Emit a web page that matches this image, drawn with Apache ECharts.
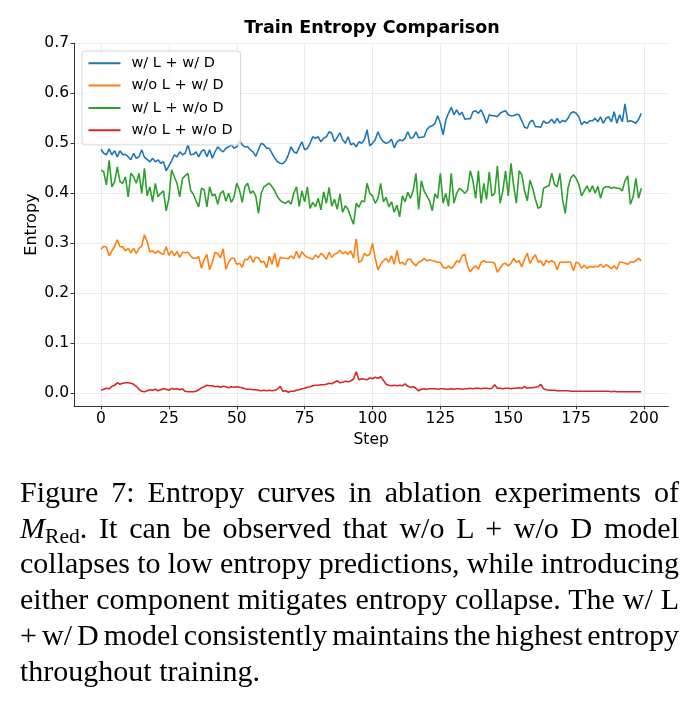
<!DOCTYPE html>
<html>
<head>
<meta charset="utf-8">
<script src="https://cdn.jsdelivr.net/npm/echarts@6/dist/echarts.min.js"></script>
<style>
body { margin: 0; background: #fff; }
#chart { position: absolute; left: 0; top: 0; width: 691px; height: 707px; }
#caption { position: absolute; left: 20px; top: 474px; width: 659px;
  font-family: "Liberation Serif", serif; font-size: 30px; line-height: 35.7px; color: #000; }
#caption div { white-space: nowrap; }
#caption .j { text-align: justify; text-align-last: justify; word-spacing: -5px; }
#caption sub { font-size: 0.72em; vertical-align: -0.25em; line-height: 0; }
</style>
</head>
<body>
<div id="chart"></div>
<div id="caption">
  <div class="j">Figure 7: Entropy curves in ablation experiments of</div>
  <div class="j"><i>M</i><sub>Red</sub>. It can be observed that w/o L + w/o D model</div>
  <div class="j">collapses to low entropy predictions, while introducing</div>
  <div class="j">either component mitigates entropy collapse. The w/ L</div>
  <div class="j">+ w/ D model consistently maintains the highest entropy</div>
  <div>throughout training.</div>
</div>
<script>
var seriesNames = ['w/ L + w/ D', 'w/o L + w/ D', 'w/ L + w/o D', 'w/o L + w/o D'];
var xTicks = [0, 25, 50, 75, 100, 125, 150, 175, 200];
var yTicks = [0, 0.1, 0.2, 0.3, 0.4, 0.5, 0.6, 0.7];

// w/ L + w/ D
var lossDiv = [
    0.488, 0.480, 0.477, 0.489, 0.477, 0.485, 0.473, 0.485, 0.477, 0.478,
    0.473, 0.467, 0.480, 0.470, 0.473, 0.487, 0.472, 0.468, 0.463, 0.470,
    0.463, 0.467, 0.460, 0.463, 0.445, 0.455, 0.465, 0.477, 0.473, 0.483,
    0.477, 0.480, 0.497, 0.477, 0.478, 0.483, 0.473, 0.484, 0.487, 0.473,
    0.487, 0.470, 0.483, 0.493, 0.487, 0.483, 0.490, 0.493, 0.497, 0.490,
    0.493, 0.505, 0.497, 0.493, 0.493, 0.487, 0.483, 0.474, 0.487, 0.500,
    0.497, 0.490, 0.490, 0.480, 0.470, 0.463, 0.460, 0.459, 0.465, 0.477,
    0.493, 0.483, 0.480, 0.492, 0.503, 0.487, 0.490, 0.500, 0.513, 0.510,
    0.513, 0.503, 0.510, 0.513, 0.523, 0.520, 0.503, 0.512, 0.521, 0.507,
    0.500, 0.513, 0.497, 0.500, 0.493, 0.503, 0.500, 0.507, 0.527, 0.495,
    0.500, 0.507, 0.523, 0.510, 0.503, 0.500, 0.502, 0.508, 0.491, 0.503,
    0.507, 0.505, 0.510, 0.523, 0.510, 0.512, 0.523, 0.511, 0.512, 0.513,
    0.527, 0.533, 0.535, 0.540, 0.555, 0.540, 0.517, 0.547, 0.560, 0.572,
    0.557, 0.567, 0.557, 0.562, 0.548, 0.549, 0.549, 0.563, 0.565, 0.560,
    0.567, 0.555, 0.540, 0.557, 0.555, 0.555, 0.553, 0.560, 0.563, 0.565,
    0.557, 0.555, 0.555, 0.558, 0.557, 0.545, 0.532, 0.530, 0.543, 0.546,
    0.533, 0.533, 0.532, 0.545, 0.540, 0.542, 0.548, 0.540, 0.550, 0.541,
    0.546, 0.543, 0.550, 0.560, 0.563, 0.560, 0.553, 0.537, 0.543, 0.540,
    0.545, 0.545, 0.550, 0.543, 0.553, 0.540, 0.550, 0.553, 0.543, 0.563,
    0.540, 0.557, 0.543, 0.579, 0.543, 0.545, 0.543, 0.540, 0.548, 0.560
];

// w/o L + w/ D
var noLossDiv = [
    0.288, 0.294, 0.292, 0.275, 0.285, 0.293, 0.307, 0.293, 0.293, 0.285,
    0.290, 0.281, 0.290, 0.280, 0.290, 0.295, 0.317, 0.303, 0.283, 0.285,
    0.280, 0.285, 0.280, 0.278, 0.293, 0.276, 0.285, 0.275, 0.284, 0.272,
    0.282, 0.281, 0.282, 0.275, 0.270, 0.270, 0.273, 0.250, 0.268, 0.278,
    0.247, 0.262, 0.282, 0.279, 0.271, 0.289, 0.248, 0.262, 0.270, 0.270,
    0.258, 0.260, 0.252, 0.268, 0.267, 0.275, 0.262, 0.272, 0.271, 0.262,
    0.264, 0.251, 0.274, 0.258, 0.280, 0.252, 0.272, 0.270, 0.270, 0.269,
    0.275, 0.269, 0.284, 0.270, 0.283, 0.276, 0.272, 0.270, 0.268, 0.277,
    0.271, 0.280, 0.275, 0.268, 0.282, 0.272, 0.278, 0.280, 0.286, 0.279,
    0.283, 0.278, 0.285, 0.270, 0.309, 0.262, 0.265, 0.280, 0.275, 0.278,
    0.300, 0.270, 0.247, 0.258, 0.265, 0.270, 0.262, 0.275, 0.258, 0.286,
    0.260, 0.262, 0.257, 0.268, 0.268, 0.260, 0.255, 0.262, 0.265, 0.270,
    0.265, 0.267, 0.265, 0.264, 0.262, 0.262, 0.252, 0.250, 0.255, 0.250,
    0.255, 0.265, 0.262, 0.275, 0.278, 0.255, 0.243, 0.250, 0.255, 0.248,
    0.262, 0.265, 0.262, 0.262, 0.262, 0.260, 0.242, 0.250, 0.258, 0.260,
    0.255, 0.260, 0.270, 0.262, 0.265, 0.253, 0.268, 0.280, 0.260, 0.270,
    0.277, 0.262, 0.265, 0.255, 0.266, 0.262, 0.265, 0.262, 0.247, 0.262,
    0.262, 0.262, 0.263, 0.262, 0.245, 0.262, 0.260, 0.250, 0.256, 0.250,
    0.254, 0.252, 0.254, 0.253, 0.258, 0.252, 0.257, 0.254, 0.249, 0.255,
    0.248, 0.262, 0.262, 0.260, 0.258, 0.263, 0.262, 0.265, 0.270, 0.265
];

// w/ L + w/o D
var lossNoDiv = [
    0.446, 0.443, 0.417, 0.466, 0.413, 0.423, 0.453, 0.423, 0.420, 0.433,
    0.393, 0.440, 0.433, 0.420, 0.440, 0.400, 0.450, 0.395, 0.413, 0.383,
    0.420, 0.393, 0.400, 0.405, 0.365, 0.390, 0.447, 0.433, 0.420, 0.393,
    0.430, 0.435, 0.440, 0.406, 0.398, 0.385, 0.373, 0.410, 0.407, 0.373,
    0.413, 0.395, 0.398, 0.378, 0.400, 0.405, 0.384, 0.400, 0.382, 0.393,
    0.420, 0.407, 0.382, 0.413, 0.420, 0.400, 0.405, 0.395, 0.360, 0.400,
    0.413, 0.417, 0.420, 0.413, 0.405, 0.393, 0.386, 0.382, 0.380, 0.385,
    0.378, 0.400, 0.413, 0.374, 0.405, 0.383, 0.413, 0.370, 0.382, 0.373,
    0.390, 0.367, 0.403, 0.380, 0.412, 0.374, 0.388, 0.368, 0.399, 0.362,
    0.375, 0.368, 0.352, 0.338, 0.380, 0.372, 0.385, 0.383, 0.420, 0.400,
    0.395, 0.380, 0.390, 0.420, 0.383, 0.392, 0.373, 0.383, 0.362, 0.376,
    0.353, 0.395, 0.383, 0.402, 0.390, 0.406, 0.440, 0.368, 0.425, 0.405,
    0.395, 0.385, 0.365, 0.399, 0.390, 0.440, 0.380, 0.400, 0.374, 0.440,
    0.380, 0.400, 0.410, 0.406, 0.400, 0.406, 0.445, 0.425, 0.390, 0.445,
    0.380, 0.420, 0.388, 0.443, 0.395, 0.400, 0.455, 0.380, 0.405, 0.445,
    0.395, 0.460, 0.415, 0.380, 0.445, 0.437, 0.405, 0.385, 0.426, 0.410,
    0.388, 0.370, 0.373, 0.410, 0.413, 0.415, 0.440, 0.418, 0.413, 0.440,
    0.388, 0.360, 0.410, 0.430, 0.437, 0.430, 0.418, 0.395, 0.405, 0.415,
    0.402, 0.415, 0.400, 0.414, 0.390, 0.410, 0.413, 0.413, 0.410, 0.412,
    0.410, 0.410, 0.405, 0.425, 0.435, 0.378, 0.393, 0.430, 0.390, 0.410
];

// w/o L + w/o D
var noLossNoDiv = [
    0.006, 0.008, 0.010, 0.009, 0.014, 0.016, 0.021, 0.018, 0.020, 0.021,
    0.021, 0.020, 0.018, 0.014, 0.008, 0.004, 0.003, 0.005, 0.007, 0.006,
    0.008, 0.005, 0.007, 0.009, 0.008, 0.006, 0.010, 0.008, 0.009, 0.007,
    0.009, 0.004, 0.003, 0.003, 0.003, 0.004, 0.007, 0.011, 0.013, 0.016,
    0.015, 0.015, 0.013, 0.014, 0.012, 0.014, 0.013, 0.011, 0.013, 0.012,
    0.013, 0.012, 0.011, 0.009, 0.008, 0.008, 0.007, 0.007, 0.006, 0.005,
    0.006, 0.005, 0.006, 0.005, 0.006, 0.008, 0.014, 0.004, 0.005, 0.002,
    0.004, 0.004, 0.006, 0.007, 0.009, 0.010, 0.012, 0.013, 0.015, 0.016,
    0.016, 0.017, 0.017, 0.018, 0.020, 0.019, 0.022, 0.025, 0.021, 0.022,
    0.024, 0.023, 0.025, 0.028, 0.043, 0.027, 0.029, 0.028, 0.027, 0.031,
    0.029, 0.032, 0.030, 0.033, 0.026, 0.018, 0.016, 0.015, 0.016, 0.015,
    0.016, 0.015, 0.019, 0.014, 0.012, 0.013, 0.010, 0.005, 0.008, 0.009,
    0.008, 0.009, 0.009, 0.009, 0.008, 0.009, 0.009, 0.008, 0.008, 0.009,
    0.008, 0.009, 0.009, 0.008, 0.009, 0.009, 0.010, 0.009, 0.010, 0.010,
    0.009, 0.010, 0.010, 0.009, 0.010, 0.017, 0.010, 0.010, 0.009, 0.010,
    0.010, 0.009, 0.010, 0.010, 0.011, 0.010, 0.014, 0.010, 0.011, 0.011,
    0.012, 0.013, 0.018, 0.009, 0.007, 0.006, 0.006, 0.006, 0.005, 0.005,
    0.005, 0.005, 0.005, 0.004, 0.004, 0.004, 0.004, 0.004, 0.004, 0.004,
    0.004, 0.004, 0.004, 0.004, 0.004, 0.004, 0.004, 0.004, 0.003, 0.004,
    0.003, 0.003, 0.003, 0.003, 0.003, 0.003, 0.003, 0.003, 0.003, 0.003
];

var colors = ['#1f77b4', '#ff7f0e', '#2ca02c', '#d62728'];

function toPairs(vals) {
    var out = [];
    for (var i = 0; i < vals.length; i++) {
        out.push([i, vals[i]]);
    }
    return out;
}

function makeSeries(name, vals, color) {
    return {
        name: name,
        type: 'line',
        data: toPairs(vals),
        symbol: 'none',
        showSymbol: false,
        animation: false,
        lineStyle: { color: color, width: 1.6 },
        itemStyle: { color: color }
    };
}

var font = 'DejaVu Sans';
var chart = echarts.init(document.getElementById('chart'));
var opt = {
    animation: false,
    title: {
        text: 'Train Entropy Comparison',
        left: 372,
        textAlign: 'center',
        top: 19,
        padding: 0,
        textStyle: { fontFamily: font, fontWeight: 'bold', fontSize: 17.5, color: '#000' }
    },
    legend: {
        data: seriesNames,
        orient: 'vertical',
        left: 82,
        top: 51,
        itemWidth: 32,
        itemHeight: 15,
        itemGap: 7.3,
        padding: [4.8, 8, 7.2, 5.5],
        borderColor: '#d6d6d6',
        borderWidth: 1,
        borderRadius: 3,
        backgroundColor: 'rgba(255,255,255,0.8)',
        lineStyle: { width: 2 },
        itemStyle: { opacity: 0, borderWidth: 0 },
        textStyle: { fontFamily: font, fontSize: 14.5, color: '#000', padding: [0, 0, 0, 6] }
    },
    grid: { left: 74, right: 22.7, top: 43.3, bottom: 301.2, containLabel: false },
    xAxis: {
        type: 'value',
        min: -9.95,
        max: 208.95,
        name: 'Step',
        nameLocation: 'middle',
        nameGap: 23,
        nameTextStyle: { fontFamily: font, fontSize: 15.5, color: '#000' },
        axisLine: { onZero: false, lineStyle: { color: '#333', width: 1 } },
        axisTick: { customValues: xTicks, length: 3.5, lineStyle: { color: '#333' } },
        axisLabel: { customValues: xTicks, margin: 5, fontFamily: font, fontSize: 15.5, color: '#000' },
        splitLine: { show: true, lineStyle: { color: '#ebebeb', width: 1 } }
    },
    yAxis: {
        type: 'value',
        min: -0.025,
        max: 0.7,
        name: 'Entropy',
        nameLocation: 'middle',
        nameGap: 34,
        nameMoveOverlap: false,
        nameTextStyle: { fontFamily: font, fontSize: 16, color: '#000' },
        axisLine: { show: true, onZero: false, lineStyle: { color: '#333', width: 1 } },
        axisTick: { show: true, customValues: yTicks, length: 3.5, lineStyle: { color: '#333' } },
        axisLabel: {
            customValues: yTicks, margin: 5, fontFamily: font, fontSize: 15.5, color: '#000',
            formatter: function (v) { return v.toFixed(1); }
        },
        splitLine: { show: true, lineStyle: { color: '#ebebeb', width: 1 } }
    },
    series: [
        makeSeries(seriesNames[0], lossDiv, colors[0]),
        makeSeries(seriesNames[1], noLossDiv, colors[1]),
        makeSeries(seriesNames[2], lossNoDiv, colors[2]),
        makeSeries(seriesNames[3], noLossNoDiv, colors[3])
    ]
};
chart.setOption(opt);
</script>
</body>
</html>
